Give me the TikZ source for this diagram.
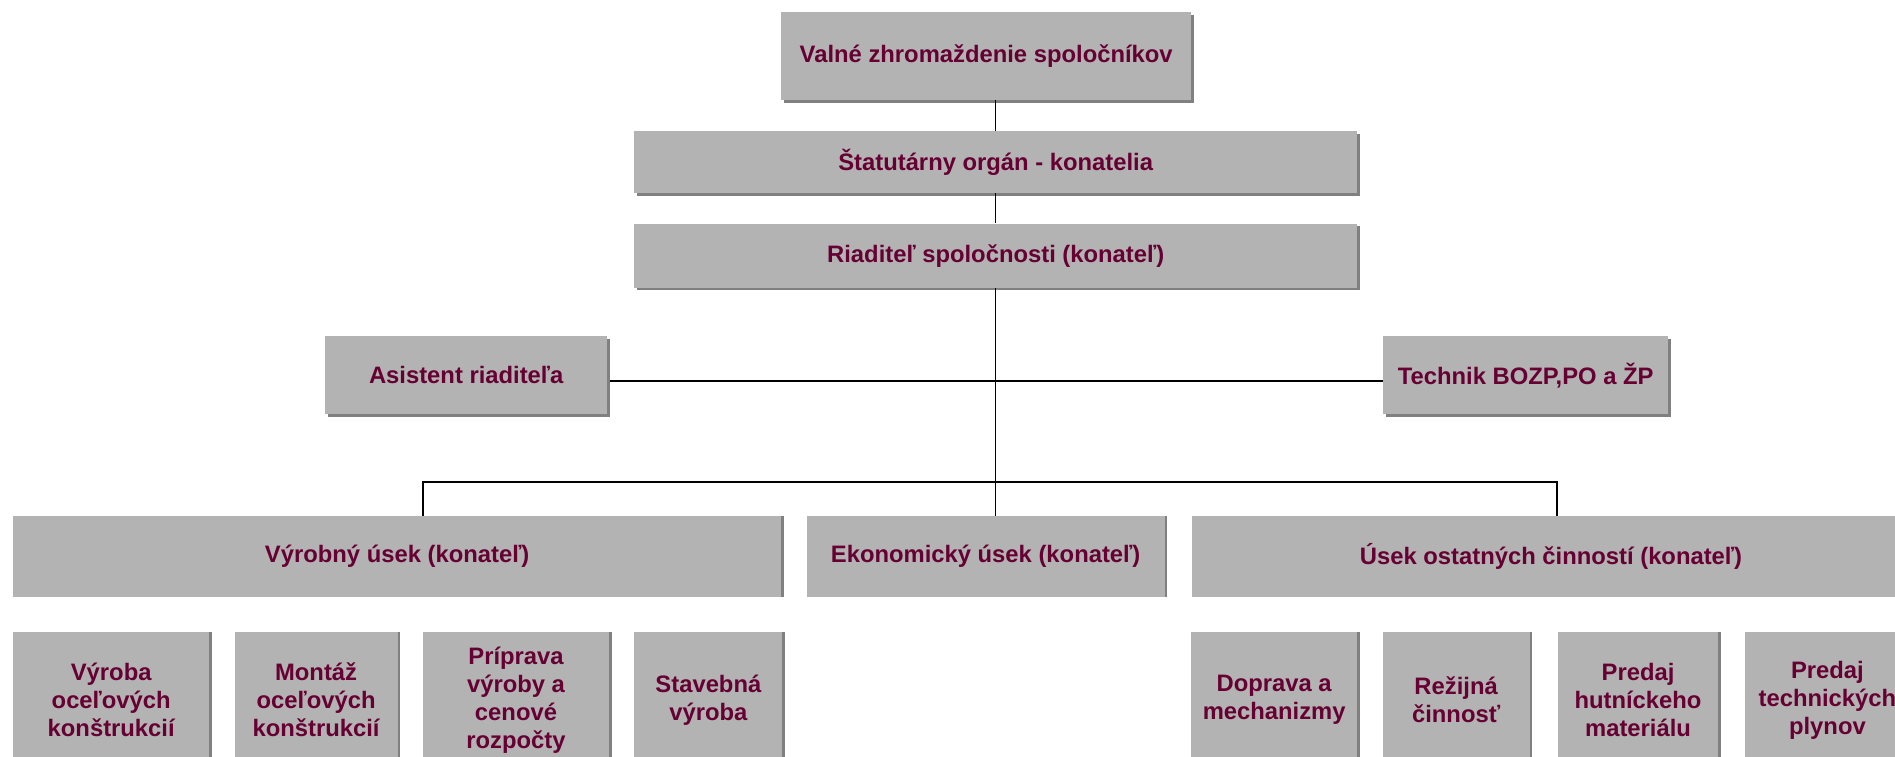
\documentclass[tikz,border=0pt]{standalone}
\usepackage{fontspec}
\setmainfont{Liberation Sans}
\usetikzlibrary{positioning, shadows}

\definecolor{boxgray}{RGB}{179,179,179}
\definecolor{shadegray}{RGB}{128,128,128}
\definecolor{labelred}{RGB}{102,0,51}

\begin{document}
\begin{tikzpicture}[x=1pt, y=-1pt,
    unit/.style={fill=boxgray, text=labelred, align=center, inner sep=0pt,
      font=\bfseries\fontsize{23.8}{28}\selectfont},
    headbox/.style={unit, drop shadow={shadow xshift=2.5pt, shadow yshift=-2.5pt, fill=shadegray, opacity=1}},
    deptbox/.style={unit, minimum height=81pt, drop shadow={shadow xshift=2.5pt, shadow yshift=0pt, fill=shadegray, opacity=1}},
    subbox/.style={deptbox, minimum height=136pt},
    conn/.style={line width=1.5pt, black}]
    \useasboundingbox (0,0) rectangle (1895,757);
    % management chain
    \node [headbox, minimum width=410pt, minimum height=88pt, anchor=north west] (valne) at (781,12) {Valné zhromaždenie spoločníkov};
    \node [headbox, minimum width=723pt, minimum height=62pt, anchor=north west] (statut) at (634,131) {Štatutárny orgán - konatelia};
    \node [headbox, minimum width=723pt, minimum height=64pt, below=30pt of statut] (riad) {Riaditeľ spoločnosti (konateľ)};
    % staff
    \node [headbox, minimum width=282pt, minimum height=78pt, anchor=north west] (asist) at (325,336) {Asistent riaditeľa};
    \node [headbox, minimum width=285pt, minimum height=78pt, anchor=north west] (techn) at (1383,336) {Technik BOZP,PO a ŽP};
    % departments
    \node [deptbox, minimum width=768pt, anchor=north west] (vyrob) at (13,516) {Výrobný úsek (konateľ)};
    \node [deptbox, minimum width=358pt, right=25pt of vyrob] (ekon) {Ekonomický úsek (konateľ)};
    \node [deptbox, minimum width=718pt, right=27pt of ekon] (usek) {Úsek ostatných činností (konateľ)};
    % sections
    \node [subbox, minimum width=196pt, anchor=north west] (vyroba) at (13,632) {Výroba\\oceľových\\konštrukcií};
    \node [subbox, minimum width=163pt, right=25pt of vyroba] (montaz) {Montáž\\oceľových\\konštrukcií};
    \node [subbox, minimum width=186pt, right=25pt of montaz] (priprava) {Príprava\\výroby a\\cenové\\rozpočty};
    \node [subbox, minimum width=148pt, right=25pt of priprava] (stavba) {Stavebná\\výroba};
    \node [subbox, minimum width=166pt, anchor=north west] (doprava) at (1191,632) {Doprava a\\mechanizmy};
    \node [subbox, minimum width=147pt, right=25pt of doprava] (rezia) {Režijná\\činnosť};
    \node [subbox, minimum width=160pt, right=28pt of rezia] (hutnik) {Predaj\\hutníckeho\\materiálu};
    \node [subbox, minimum width=164pt, right=27pt of hutnik] (plyny) {Predaj\\technických\\plynov};
    % connectors
    \draw [conn] (statut.north) -- (statut.north |- valne.south);
    \draw [conn] (statut.south) -- (riad.north);
    \draw [conn] (riad.south) -- (riad.south |- ekon.north);
    \coordinate (staff) at (0,381);
    \draw [conn] (asist.east |- staff) ++(2.5,0) -- (techn.west |- staff);
    \coordinate (busl) at (423,482);
    \coordinate (busr) at (1557,482);
    \draw [conn] (busl |- vyrob.north) -- (busl) -- (busr) -- (busr |- usek.north);
\end{tikzpicture}
\end{document}
